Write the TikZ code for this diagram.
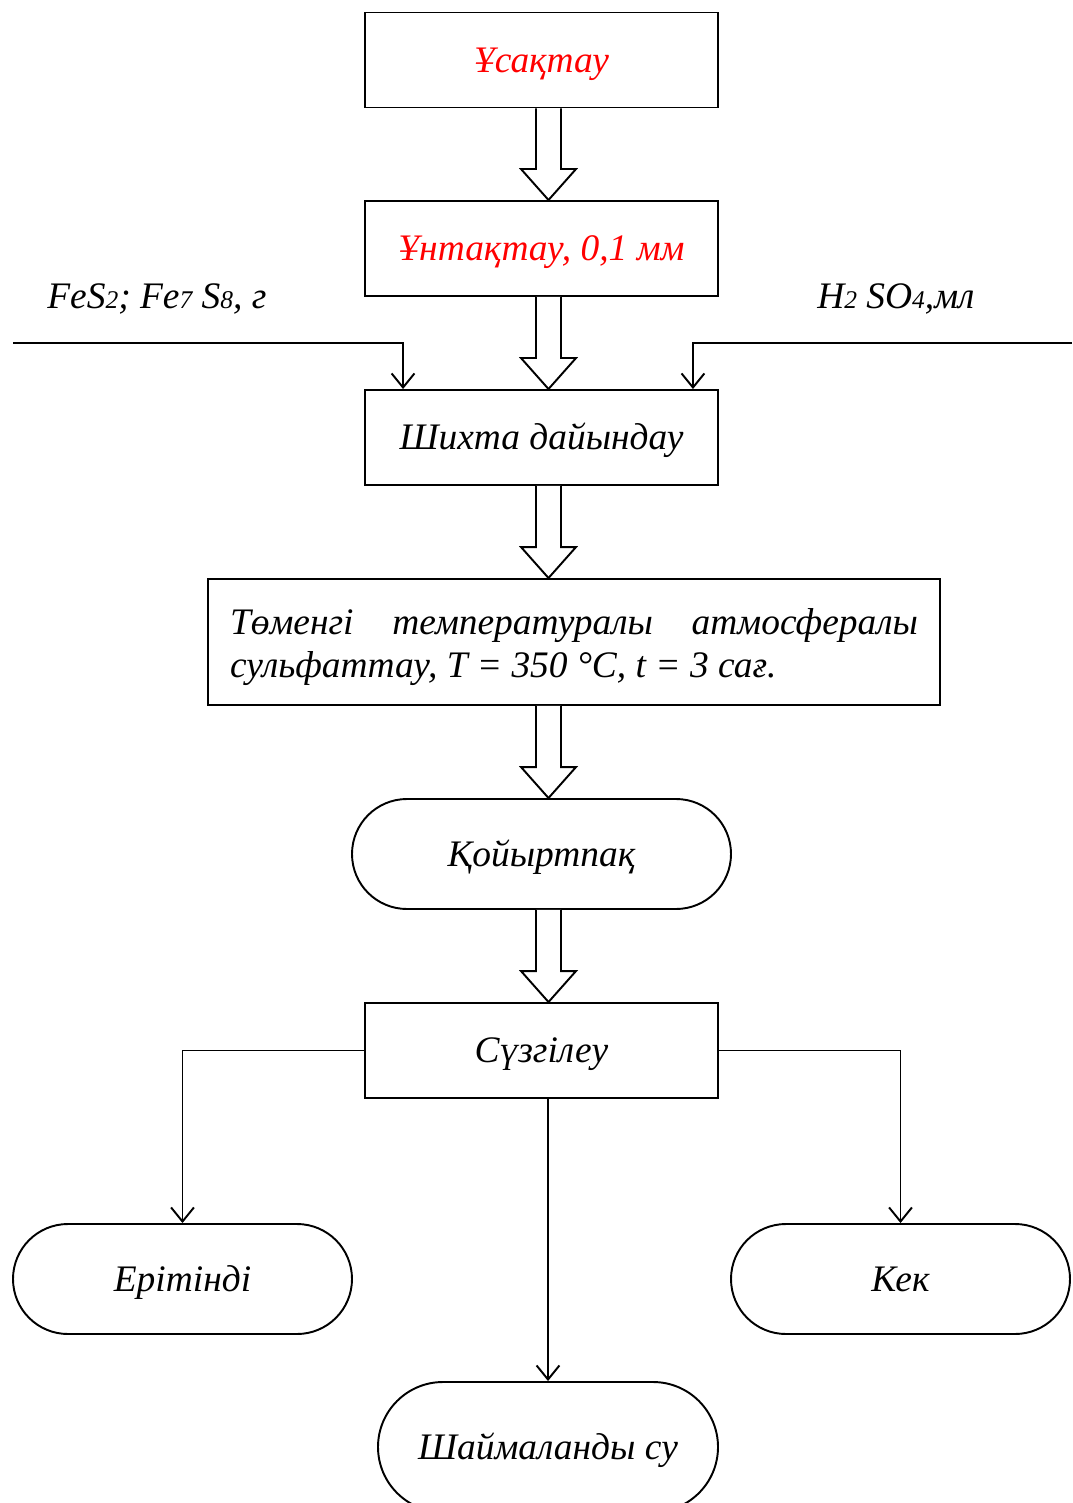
\documentclass[tikz,border=0pt]{standalone}
\usepackage{fontspec}
\setmainfont{Liberation Serif}
\usetikzlibrary{positioning}
\usetikzlibrary{calc}
\usetikzlibrary{arrows.meta}
\definecolor{step-red}{HTML}{FF0000}
\newdimen\pxu
\pxu=0.02cm
\tikzset{
  step-font/.style={font=\fontsize{21.3}{24.4}\selectfont\itshape},
  step-border/.style={draw, line width=1.1pt, step-font},
  process-box/.style={step-border, text height=16.5pt, text depth=2.5pt, minimum width=353\pxu, minimum height=95\pxu},
  terminal-box/.style={step-border, text height=16.5pt, text depth=2.5pt, rounded corners=55\pxu, minimum width=339\pxu, minimum height=110\pxu},
  feed-path/.style={line width=0.7pt, -{Straight Barb[length=8pt, width=13pt, line width=1.1pt]}},
  flow-path/.style={line width=1pt, -{Straight Barb[length=8pt, width=13pt, line width=1.1pt]}},
  block-flow/.style={draw, line width=1.1pt, fill=white, line join=miter},
  feed-label/.style={anchor=base west, inner sep=0pt, step-font},
}
\newcommand{\lowidx}[1]{{\fontsize{14.5}{14.5}\selectfont #1}}
% hollow arrow from one step down to the next
\newcommand{\blockflow}[2]{%
\draw[block-flow] ($(axis |- #1.south)+(-12.5,0)$) -- ($(axis |- #2.north)+(-12.5,-31)$)
  -- ($(axis |- #2.north)+(-27.5,-31)$) -- (axis |- #2.north) -- ($(axis |- #2.north)+(27.5,-31)$)
  -- ($(axis |- #2.north)+(12.5,-31)$) -- ($(axis |- #1.south)+(12.5,0)$);
}

\begin{document}
\begin{tikzpicture}[x=0.02cm, y=-0.02cm]
\useasboundingbox (0,0) rectangle (1072,1503);
\coordinate (axis) at (548.5,0);
% main line
\node[process-box, text=step-red] (roast) at (541.5,60) {Ұсақтау};
\node[process-box, text=step-red] (grind) at (541.5,248.5) {Ұнтақтау, 0,1 мм};
\node[process-box] (charge) at (541.5,437.5) {Шихта дайындау};
\node[step-border, minimum width=732\pxu, minimum height=126\pxu, text width=688\pxu, align=justify] (sulf) at (574,642)
  {\rule{0pt}{21pt}Төменгі температуралы атмосфералы сульфаттау, \textit{T} = 350 °C, \textit{t} = 3 сағ.};
\node[terminal-box, minimum width=379\pxu] (pulp) at (541.5,854) {Қойыртпақ};
\node[process-box] (filter) at (541.5,1050.5) {Сүзгілеу};
% products
\node[terminal-box] (solution) at (182.5,1279) {Ерітінді};
\node[terminal-box] (cake) at (900.5,1279) {Кек};
\node[terminal-box, minimum width=340\pxu, minimum height=130\pxu, rounded corners=65\pxu] (wash) at (548,1447) {Шаймаланды су};
% reagents
\node[feed-label] (ore) at (47,309) {FeS\lowidx{2}; Fe\lowidx{7} S\lowidx{8}, г};
\node[feed-label] (acid) at (817,309) {H\lowidx{2} SO\lowidx{4},мл};
\coordinate (ore-in) at (13,343);
\coordinate (acid-in) at (1072,343);
\draw[feed-path] (ore-in) -| ($(charge.north west)+(39,0)$);
\draw[feed-path] (acid-in) -| ($(charge.north east)+(-26,0)$);
% hollow arrows
\blockflow{roast}{grind}
\blockflow{grind}{charge}
\blockflow{charge}{sulf}
\blockflow{sulf}{pulp}
\blockflow{pulp}{filter}
% filtration outputs
\draw[flow-path] (filter.west) -| (solution.north);
\draw[flow-path] (filter.east) -| (cake.north);
\draw[flow-path] (wash.north |- filter.south) -- (wash.north);
\end{tikzpicture}
\end{document}
